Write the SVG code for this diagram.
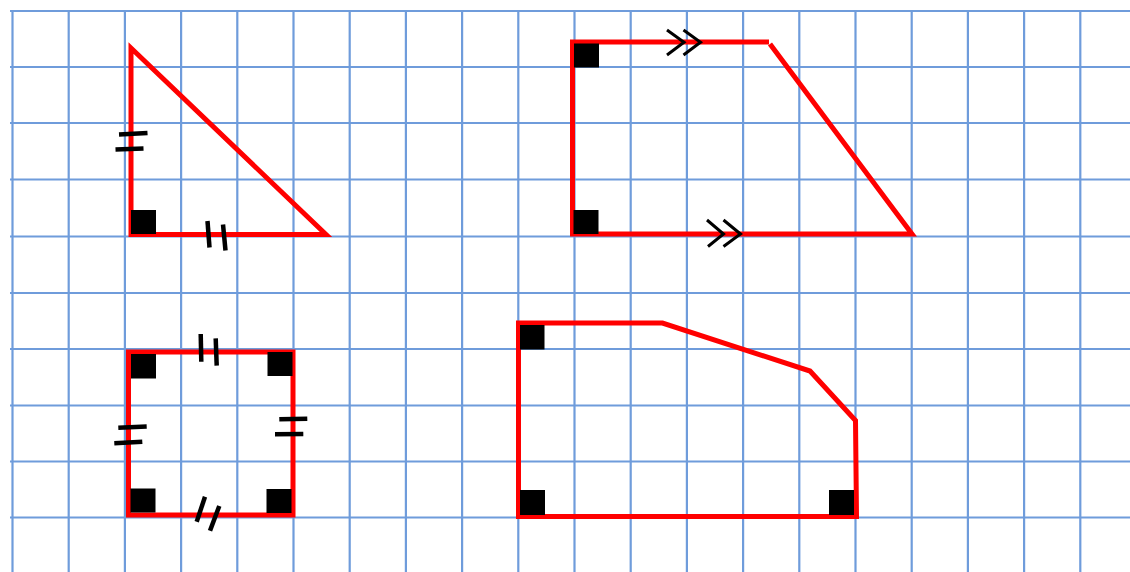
<svg xmlns="http://www.w3.org/2000/svg" width="1130" height="572" viewBox="0 0 1130 572">
<style>
.grid line{stroke:#6f9cdb;stroke-width:2.2}
.edge{fill:none;stroke:#ff0000;stroke-width:5;stroke-linejoin:miter}
.ra{fill:#000}
.tick{stroke:#000;stroke-width:4.5;fill:none}
.chev{stroke:#000;stroke-width:3;fill:none}
</style>
<rect width="1130" height="572" fill="#fff"/>
<g id="grid" class="grid">
<line x1="10" y1="11" x2="1130" y2="11"/>
<line x1="10" y1="67" x2="1130" y2="67"/>
<line x1="10" y1="123" x2="1130" y2="123"/>
<line x1="10" y1="179.5" x2="1130" y2="179.5"/>
<line x1="10" y1="236.5" x2="1130" y2="236.5"/>
<line x1="10" y1="293" x2="1130" y2="293"/>
<line x1="10" y1="349" x2="1130" y2="349"/>
<line x1="10" y1="405.5" x2="1130" y2="405.5"/>
<line x1="10" y1="461.5" x2="1130" y2="461.5"/>
<line x1="10" y1="517.5" x2="1130" y2="517.5"/>
<line x1="12.5" y1="10" x2="12.5" y2="572"/>
<line x1="68.7" y1="10" x2="68.7" y2="572"/>
<line x1="124.9" y1="10" x2="124.9" y2="572"/>
<line x1="181.1" y1="10" x2="181.1" y2="572"/>
<line x1="237.3" y1="10" x2="237.3" y2="572"/>
<line x1="293.5" y1="10" x2="293.5" y2="572"/>
<line x1="349.7" y1="10" x2="349.7" y2="572"/>
<line x1="405.9" y1="10" x2="405.9" y2="572"/>
<line x1="462.1" y1="10" x2="462.1" y2="572"/>
<line x1="518.3" y1="10" x2="518.3" y2="572"/>
<line x1="574.5" y1="10" x2="574.5" y2="572"/>
<line x1="630.7" y1="10" x2="630.7" y2="572"/>
<line x1="686.9" y1="10" x2="686.9" y2="572"/>
<line x1="743.1" y1="10" x2="743.1" y2="572"/>
<line x1="799.3" y1="10" x2="799.3" y2="572"/>
<line x1="855.5" y1="10" x2="855.5" y2="572"/>
<line x1="911.7" y1="10" x2="911.7" y2="572"/>
<line x1="967.9" y1="10" x2="967.9" y2="572"/>
<line x1="1024.1" y1="10" x2="1024.1" y2="572"/>
<line x1="1080.3" y1="10" x2="1080.3" y2="572"/>
</g>
<g id="triangle">
<polygon class="edge" points="131,48 131,234.5 326,234.5"/>
<rect class="ra" x="131" y="210" width="25" height="24"/>
<line class="tick" x1="119" y1="134.5" x2="147.5" y2="133"/>
<line class="tick" x1="115.5" y1="149.5" x2="143.5" y2="148.5"/>
<line class="tick" x1="207.5" y1="221" x2="209.5" y2="247.5"/>
<line class="tick" x1="223" y1="224.5" x2="225.5" y2="250.5"/>
</g>
<g id="trapezoid">
<polyline class="edge" points="769,42 572.5,42 572.5,234 912,234 770,44"/>
<rect class="ra" x="574" y="43.5" width="25" height="24"/>
<rect class="ra" x="573.5" y="210" width="25" height="24"/>
<polyline class="chev" points="667,30 684,42.3 667,55"/>
<polyline class="chev" points="683.5,30 700.5,42.3 683.5,55"/>
<polyline class="chev" points="707,220 723.5,234 708,246.5"/>
<polyline class="chev" points="723.5,220 740.5,234 723.5,246.5"/>
</g>
<g id="square">
<polygon class="edge" points="128.5,352 293,352 293,515 128.5,515"/>
<rect class="ra" x="131" y="354" width="25" height="24.5"/>
<rect class="ra" x="267.5" y="352" width="25" height="24"/>
<rect class="ra" x="130.5" y="488.5" width="25" height="24"/>
<rect class="ra" x="266.5" y="489" width="25" height="24"/>
<line class="tick" x1="200.7" y1="334" x2="201.3" y2="361.7"/>
<line class="tick" x1="215.7" y1="338.3" x2="216.7" y2="365.7"/>
<line class="tick" x1="118.3" y1="427.7" x2="146.7" y2="426.5"/>
<line class="tick" x1="114.3" y1="443.3" x2="142.3" y2="441.7"/>
<line class="tick" x1="279.3" y1="419.3" x2="307.3" y2="418.7"/>
<line class="tick" x1="275" y1="434.3" x2="303.3" y2="434"/>
<line class="tick" x1="205" y1="496.7" x2="196.7" y2="521.7"/>
<line class="tick" x1="219.3" y1="506" x2="210" y2="530.7"/>
</g>
<g id="pentagon">
<polygon class="edge" points="518.5,323 662.5,323 810,371 855.5,420.5 856.5,516.5 518.5,516.5"/>
<rect class="ra" x="520" y="325" width="24.5" height="24.5"/>
<rect class="ra" x="520" y="490" width="25" height="25"/>
<rect class="ra" x="829" y="490" width="25" height="25"/>
</g>
</svg>
